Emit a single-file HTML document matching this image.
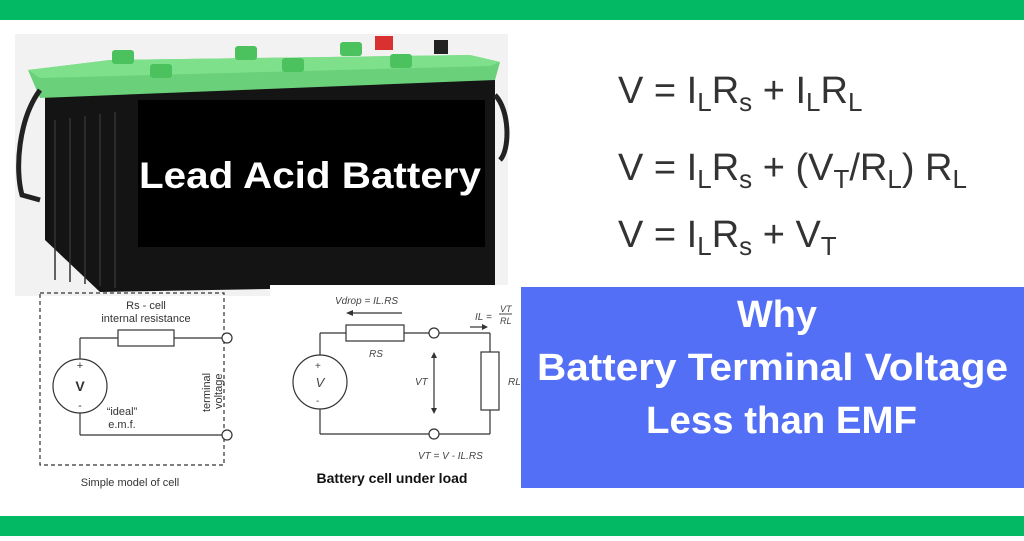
<!DOCTYPE html>
<html><head><style>
body{margin:0;width:1024px;height:536px;overflow:hidden;background:#fff;font-family:"Liberation Sans",sans-serif}
</style></head><body>
<svg width="1024" height="536" viewBox="0 0 1024 536" xmlns="http://www.w3.org/2000/svg" font-family="Liberation Sans, sans-serif">
<rect x="0" y="0" width="1024" height="20" fill="#03b964"/>
<rect x="0" y="516" width="1024" height="20" fill="#03b964"/>
<!-- battery photo area -->
<rect x="15" y="34" width="493" height="262" fill="#f2f2f2"/>
<polygon points="45,95 495,78 495,285 100,292 45,240" fill="#141414"/>
<polygon points="28,70 40,98 495,80 500,62 470,55 110,60" fill="#6bd07a"/>
<polygon points="28,70 110,60 470,55 500,62 490,66 40,78" fill="#7fe08c"/>
<g fill="#4cc25e"><rect x="112" y="50" width="22" height="14" rx="3"/><rect x="235" y="46" width="22" height="14" rx="3"/><rect x="340" y="42" width="22" height="14" rx="3"/><rect x="150" y="64" width="22" height="14" rx="3"/><rect x="282" y="58" width="22" height="14" rx="3"/><rect x="390" y="54" width="22" height="14" rx="3"/></g>
<rect x="375" y="36" width="18" height="14" fill="#d93030"/>
<rect x="434" y="40" width="14" height="14" fill="#222"/>
<path d="M40,90 C18,120 15,170 22,195 L40,200" stroke="#222" stroke-width="5" fill="none"/>
<path d="M495,95 C510,110 510,150 500,160" stroke="#222" stroke-width="5" fill="none"/>
<g stroke="#333" stroke-width="1.5"><line x1="55" y1="120" x2="55" y2="280"/><line x1="70" y1="118" x2="70" y2="282"/><line x1="85" y1="116" x2="85" y2="284"/><line x1="100" y1="114" x2="100" y2="286"/><line x1="115" y1="112" x2="115" y2="288"/></g>
<rect x="138" y="100" width="347" height="147" fill="#000"/>
<text x="139" y="188" textLength="342" lengthAdjust="spacingAndGlyphs" fill="#fff" font-size="37" font-weight="bold">Lead Acid Battery</text>
<!-- equations -->
<g fill="#333" font-size="38">
<text x="618" y="103">V = I<tspan font-size="26" dy="8">L</tspan><tspan dy="-8">R</tspan><tspan font-size="26" dy="8">s</tspan><tspan dy="-8"> + I</tspan><tspan font-size="26" dy="8">L</tspan><tspan dy="-8">R</tspan><tspan font-size="26" dy="8">L</tspan></text>
<text x="618" y="180">V = I<tspan font-size="26" dy="8">L</tspan><tspan dy="-8">R</tspan><tspan font-size="26" dy="8">s</tspan><tspan dy="-8"> + (V</tspan><tspan font-size="26" dy="8">T</tspan><tspan dy="-8">/R</tspan><tspan font-size="26" dy="8">L</tspan><tspan dy="-8">) R</tspan><tspan font-size="26" dy="8">L</tspan></text>
<text x="618" y="247">V = I<tspan font-size="26" dy="8">L</tspan><tspan dy="-8">R</tspan><tspan font-size="26" dy="8">s</tspan><tspan dy="-8"> + V</tspan><tspan font-size="26" dy="8">T</tspan></text>
</g>
<!-- blue box -->
<rect x="521" y="287" width="503" height="201" fill="#536ff5"/>
<g fill="#fff" font-size="38" font-weight="bold">
<text x="737" y="327" textLength="80" lengthAdjust="spacingAndGlyphs">Why</text>
<text x="537" y="380" textLength="471" lengthAdjust="spacingAndGlyphs">Battery Terminal Voltage</text>
<text x="646" y="433" textLength="271" lengthAdjust="spacingAndGlyphs">Less than EMF</text>
</g>
<!-- circuit 1 -->
<g stroke="#333" stroke-width="1.2" fill="none">
<rect x="40" y="293" width="184" height="172" stroke-dasharray="4,3"/>
<line x1="80" y1="338" x2="118" y2="338"/><rect x="118" y="330" width="56" height="16"/><line x1="174" y1="338" x2="222" y2="338"/>
<circle cx="80" cy="386" r="27"/><line x1="80" y1="413" x2="80" y2="435"/><line x1="80" y1="435" x2="222" y2="435"/>
<line x1="80" y1="338" x2="80" y2="359"/>
<circle cx="227" cy="338" r="5" fill="#fff"/><circle cx="227" cy="435" r="5" fill="#fff"/>
</g>
<g fill="#333" font-size="11">
<text x="146" y="309" text-anchor="middle">Rs - cell</text>
<text x="146" y="322" text-anchor="middle">internal resistance</text>
<text x="80" y="391" text-anchor="middle" font-size="14" font-weight="bold">V</text>
<text x="80" y="369" text-anchor="middle">+</text><text x="80" y="409" text-anchor="middle">-</text>
<text x="122" y="415" text-anchor="middle">“ideal”</text><text x="122" y="428" text-anchor="middle">e.m.f.</text>
<text transform="translate(210,412) rotate(-90)" font-size="11">terminal</text>
<text transform="translate(222,409) rotate(-90)" font-size="11">voltage</text>
<text x="130" y="486" text-anchor="middle">Simple model of cell</text>
</g>
<!-- circuit 2 -->
<rect x="270" y="285" width="250" height="205" fill="#fff"/>
<g stroke="#333" stroke-width="1.2" fill="none">
<line x1="320" y1="333" x2="346" y2="333"/><rect x="346" y="325" width="58" height="16"/><line x1="404" y1="333" x2="429" y2="333"/><line x1="439" y1="333" x2="490" y2="333"/><line x1="490" y1="333" x2="490" y2="352"/>
<rect x="481" y="352" width="18" height="58"/><line x1="490" y1="410" x2="490" y2="434"/><line x1="439" y1="434" x2="490" y2="434"/>
<line x1="320" y1="333" x2="320" y2="355"/><circle cx="320" cy="382" r="27"/><line x1="320" y1="409" x2="320" y2="434"/><line x1="320" y1="434" x2="429" y2="434"/>
<circle cx="434" cy="333" r="5"/><circle cx="434" cy="434" r="5"/>
<line x1="434" y1="356" x2="434" y2="410"/>
<line x1="350" y1="313" x2="402" y2="313"/><line x1="470" y1="327" x2="484" y2="327"/>
</g>
<g fill="#333"><polygon points="346,313 353,310 353,316"/><polygon points="488,327 482,324 482,330"/><polygon points="434,352 431,358 437,358"/><polygon points="434,414 431,408 437,408"/></g>
<g fill="#444" font-size="10" font-style="italic">
<text x="335" y="304">Vdrop = IL.RS</text>
<text x="475" y="320">IL = </text><text x="500" y="312" font-size="9">VT</text><line x1="499" y1="314" x2="512" y2="314" stroke="#444"/><text x="500" y="324" font-size="9">RL</text>
<text x="369" y="357">RS</text>
<text x="415" y="385">VT</text>
<text x="508" y="385">RL</text>
<text x="320" y="387" text-anchor="middle" font-size="13">V</text>
<text x="315" y="369" font-style="normal">+</text><text x="316" y="404" font-style="normal">-</text>
<text x="418" y="459">VT = V - IL.RS</text>
</g>
<text x="392" y="483" text-anchor="middle" font-size="14" font-weight="bold" fill="#111">Battery cell under load</text>
</svg>
</body></html>
